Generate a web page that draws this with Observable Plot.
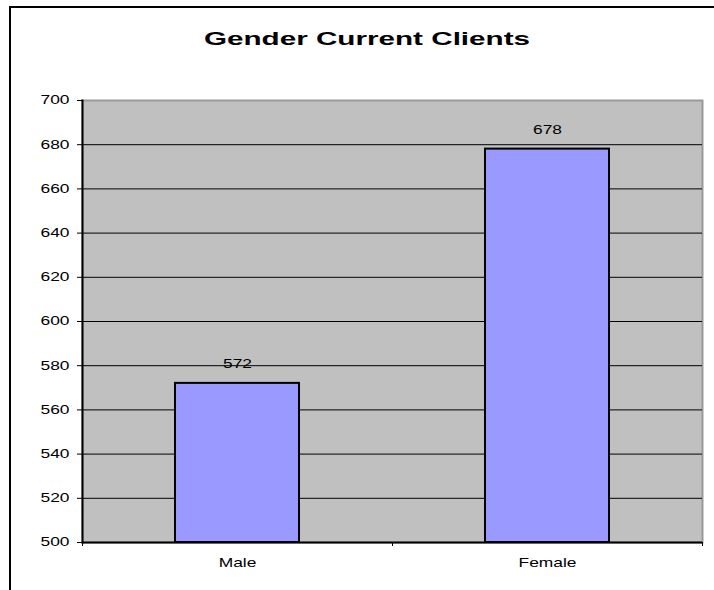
<!DOCTYPE html>
<html>
<head>
<meta charset="utf-8">
<script src="https://cdn.jsdelivr.net/npm/d3@7"></script>
<script src="https://cdn.jsdelivr.net/npm/@observablehq/plot@0.6"></script>
<style>
  html { overflow: hidden; }
  html, body { margin: 0; padding: 0; background: #fff; }
  body { width: 714px; height: 590px; overflow: hidden; position: relative;
         font-family: "Liberation Sans", Arial, sans-serif; }
  #outer { position: absolute; left: 9px; top: 6px; width: 1400px; height: 1400px;
           border-left: 2px solid #000; border-top: 2px solid #000; box-sizing: border-box; pointer-events: none; }
  #title { position: absolute; left: 367px; top: 39px; white-space: nowrap;
           font-weight: bold; font-size: 19px; color: #000;
           transform: translate(-50%, -50%) scaleX(1.56); }
  #chart { position: absolute; left: 0; top: 0; }
</style>
</head>
<body>
<div id="chart"></div>
<div id="title">Gender Current Clients</div>
<div id="outer"></div>
<script>
const categories = ["Male", "Female"];
const counts = [572, 678];
const yTicks = [500, 520, 540, 560, 580, 600, 620, 640, 660, 680, 700];

const data = categories.map((c, i) => ({category: c, count: counts[i]}));

const W = 714, H = 590, ML = 82, MR = 12, MT = 100, MB = 48;
const step = (W - ML - MR) / categories.length;
const yMin = yTicks[0], yMax = yTicks[yTicks.length - 1];

const chart = Plot.plot({
  width: W,
  height: H,
  marginLeft: ML,
  marginRight: MR,
  marginTop: MT,
  marginBottom: MB,
  style: {fontFamily: "'Liberation Sans', Arial, sans-serif", fontSize: "12px", color: "#000", background: "transparent"},
  x: {domain: categories, paddingInner: 0.6, paddingOuter: 0.3, label: null},
  y: {domain: [yMin, yMax], label: null},
  marks: [
    Plot.frame({fill: "#C0C0C0", stroke: "#9a9a9a", strokeWidth: 2}),
    Plot.gridY(yTicks.slice(1, -1), {stroke: "#000", strokeOpacity: 1, strokeWidth: 1}),
    Plot.barY(data, {x: "category", y1: yMin, y2: "count", fill: "#9999FF", stroke: "#000", strokeWidth: 2}),
    Plot.ruleY([yMin], {stroke: "#000", strokeWidth: 2}),
    Plot.frame({anchor: "left", stroke: "#000", strokeWidth: 2}),
    Plot.axisY(yTicks, {tickSize: 5, tickPadding: 8, fontSize: 12, label: null, stroke: "#000"}),
    Plot.axisX({tickSize: 4, tickFormat: () => "", dx: step / 2, label: null, stroke: "#000"}),
    Plot.axisX({tickSize: 4, tickFormat: () => "", dx: -step / 2, label: null, stroke: "#000"}),
    Plot.axisX({tickSize: 0, tickPadding: 16, fontSize: 12, label: null}),
    Plot.text(data, {x: "category", y: "count", text: d => String(d.count), dy: -19, fontSize: 12, fill: "#000"})
  ]
});

chart.querySelectorAll("text").forEach(t => {
  const x = +(t.getAttribute("x") || 0);
  let tr = t.getAttribute("transform") || "";
  if (x) { tr = `translate(${x},0) ` + tr; t.removeAttribute("x"); }
  t.setAttribute("transform", tr + " scale(1.45,1)");
});

document.getElementById("chart").appendChild(chart);
</script>
</body>
</html>
